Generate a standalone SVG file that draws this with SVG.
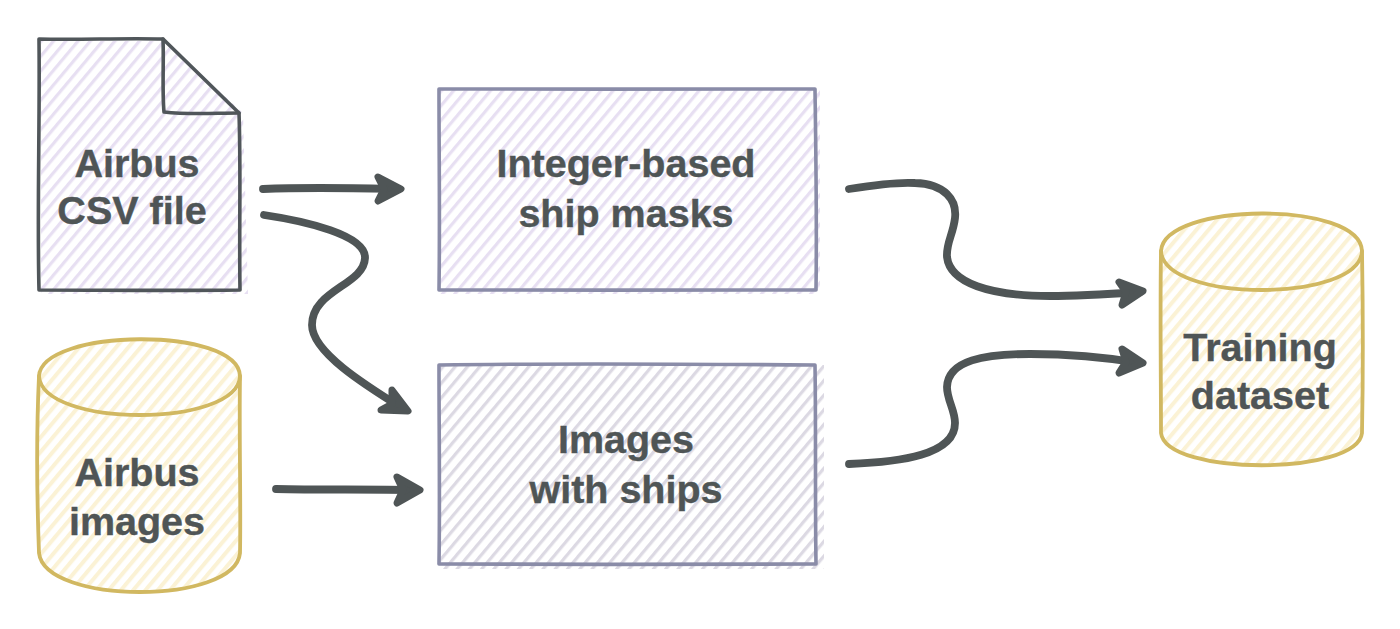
<svg xmlns="http://www.w3.org/2000/svg" width="1400" height="629" viewBox="0 0 1400 629">
<style>
text{font-family:"Liberation Sans",Arial,sans-serif;font-weight:700;font-size:39.5px;fill:#4f5556;stroke:#4f5556;stroke-width:.4;text-anchor:middle}
.o{fill:none;stroke-linejoin:round;stroke-linecap:round}
.doc{stroke:#50565a;stroke-width:3.6}
.box{stroke:#8a8ca8;stroke-width:3.6}
.cyl{stroke:#d1b861;stroke-width:3.8}
.c{fill:none;stroke:#4f5556;stroke-width:7.8;stroke-linecap:round;stroke-linejoin:round}
.h{fill:#4f5556;stroke:#4f5556;stroke-width:7;stroke-linejoin:round}
</style>
<defs>
<pattern id="hp" width="9.4" height="9.4" patternUnits="userSpaceOnUse" patternTransform="rotate(-50)"><rect width="9.4" height="9.4" fill="#fff"/><rect width="9.4" height="3.2" fill="#e7dff2"/></pattern>
<pattern id="hy" width="9.4" height="9.4" patternUnits="userSpaceOnUse" patternTransform="rotate(-50)"><rect width="9.4" height="9.4" fill="#fff"/><rect width="9.4" height="4" fill="#fbf2d5"/></pattern>
<pattern id="hg" width="9.4" height="9.4" patternUnits="userSpaceOnUse" patternTransform="rotate(-50)"><rect width="9.4" height="9.4" fill="#fff"/><rect width="9.4" height="3.2" fill="#dcd9e3"/></pattern>
</defs>
<rect width="1400" height="629" fill="#fff"/>
<g id="connectors">
<path class="c" d="M263,189 C310,187 350,188 398,189"/>
<path class="h" d="M378,177 L401,189 L378,201 L384,189 Z"/>
<path class="c" d="M264,215 C305,221 366,235 365,258 C364,285 312,290 312,325 C312,352 365,385 402,408"/>
<path class="h" d="M392,390 L408,411 L381,410 L392,404 Z"/>
<path class="c" d="M276,489 C320,490 370,489 416,490"/>
<path class="h" d="M397,477 L420,490 L397,503 L403,490 Z"/>
<path class="c" d="M849,189 C880,184 900,182 915,183 C945,184 957,200 955,218 C953,235 946,243 947,257 C950,283 990,296 1050,296 C1080,296 1110,294 1140,292"/>
<path class="h" d="M1119,282 L1143,291 L1122,305 L1126,292 Z"/>
<path class="c" d="M849,464 C900,462 955,455 955,423 C955,410 947,400 947,387 C948,360 985,354 1030,354 C1070,354 1110,358 1140,363"/>
<path class="h" d="M1122,349 L1143,363 L1119,373 L1126,362 Z"/>
</g>
<g id="csv-file">
<path d="M41,41 L165,41 L243,113 L248,294 L41,294 Z" fill="url(#hp)"/>
<path class="o doc" d="M39,39 C80,40 120,38 163,39 L239,113 C241,170 239,230 240,290 C170,291 100,290 39,290 C37,210 40,120 39,39 Z"/>
<path class="o doc" d="M163,39 C164,60 162,90 164,112 C190,115 215,113 239,113"/>
<text x="137" y="177">Airbus</text>
<text x="132" y="224">CSV file</text>
</g>
<g id="airbus-images">
<path d="M39,377 C39,325 240,325 240,377 L242,553 C240,605 41,605 39,553 Z" fill="url(#hy)"/>
<path class="o cyl" d="M39,376 C42,328 238,326 240,376 C238,428 42,428 39,376 Z"/>
<path class="o cyl" d="M39,376 C36,440 37,500 39,553 C45,605 235,605 240,553 C241,500 239,440 240,376"/>
<text x="137" y="486">Airbus</text>
<text x="137" y="535">images</text>
</g>
<g id="ship-masks">
<rect x="439" y="89" width="381" height="205" fill="url(#hp)"/>
<path class="o box" d="M439,89 C560,90 700,88 815,89 C816,160 817,220 816,290 C700,289 560,291 439,290 C440,220 439,160 439,89 Z"/>
<text x="626" y="177">Integer-based</text>
<text x="626" y="227">ship masks</text>
</g>
<g id="images-with-ships">
<rect x="439" y="365" width="385" height="204" fill="url(#hg)"/>
<path class="o box" d="M439,365 C560,363 700,364 815,365 C816,430 815,500 816,564 C700,565 560,564 439,564 C440,500 439,430 439,365 Z"/>
<text x="626" y="453">Images</text>
<text x="626" y="503">with ships</text>
</g>
<g id="training-dataset">
<path d="M1161,251 C1161,199 1362,199 1362,251 L1364,433 C1362,477 1163,477 1161,433 Z" fill="url(#hy)"/>
<path class="o cyl" d="M1161,251 C1164,202 1360,200 1362,251 C1360,303 1164,303 1161,251 Z"/>
<path class="o cyl" d="M1161,251 C1160,310 1161,380 1161,433 C1166,476 1357,476 1362,433 C1363,380 1363,310 1362,251"/>
<text x="1260" y="361">Training</text>
<text x="1260" y="409">dataset</text>
</g>
</svg>
